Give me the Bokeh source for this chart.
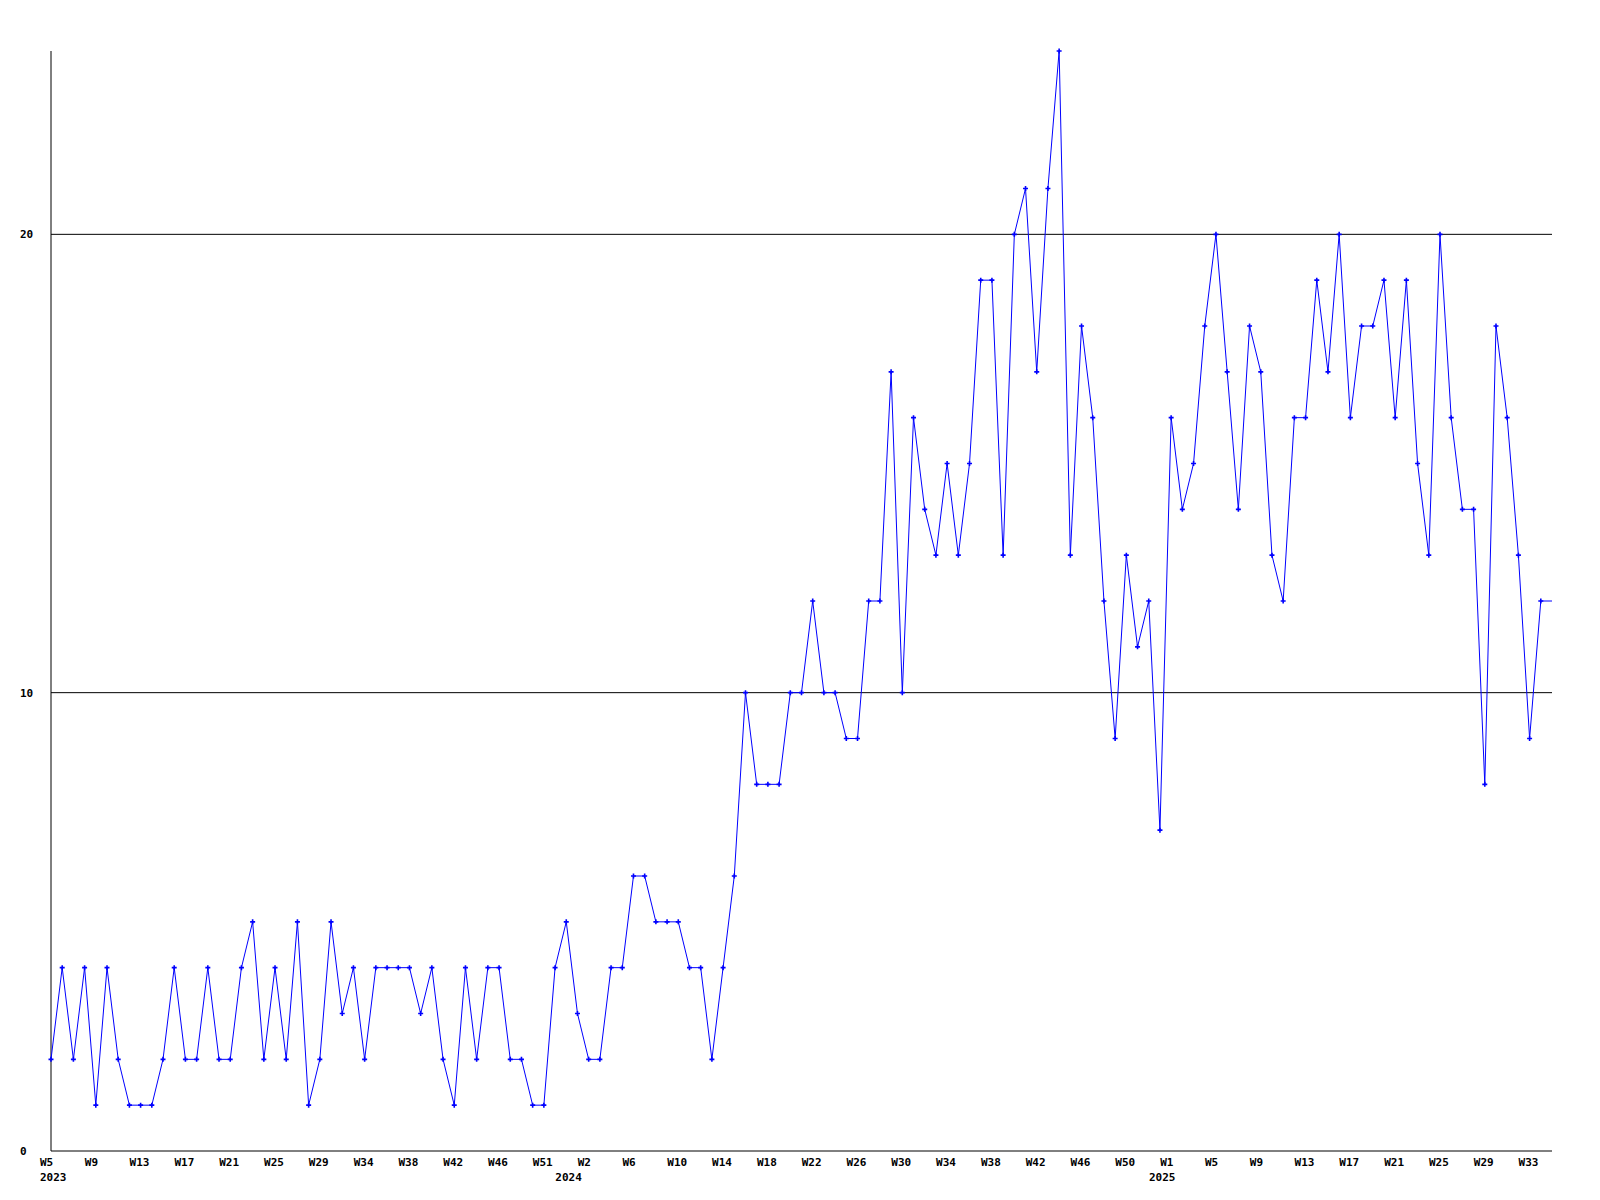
from bokeh.plotting import figure
from bokeh.models import Range1d
from bokeh.core.properties import value
from bokeh.embed import file_html
from bokeh.resources import INLINE

# weekly values, 2023 W5 .. 2025 (last week)
values = [
    2, 4, 2, 4, 1, 4, 2, 1, 1, 1,
    2, 4, 2, 2, 4, 2, 2, 4, 5, 2,
    4, 2, 5, 1, 2, 5, 3, 4, 2, 4,
    4, 4, 4, 3, 4, 2, 1, 4, 2, 4,
    4, 2, 2, 1, 1, 4, 5, 3, 2, 2,
    4, 4, 6, 6, 5, 5, 5, 4, 4, 2,
    4, 6, 10, 8, 8, 8, 10, 10, 12, 10,
    10, 9, 9, 12, 12, 17, 10, 16, 14, 13,
    15, 13, 15, 19, 19, 13, 20, 21, 17, 21,
    24, 13, 18, 16, 12, 9, 13, 11, 12, 7,
    16, 14, 15, 18, 20, 17, 14, 18, 17, 13,
    12, 16, 16, 19, 17, 20, 16, 18, 18, 19,
    16, 19, 15, 13, 20, 16, 14, 14, 8, 18,
    16, 13, 9, 12,
]

week_labels = [
    "W5", "W9", "W13", "W17", "W21", "W25", "W29", "W34", "W38", "W42", "W46", "W51",
    "W2", "W6", "W10", "W14", "W18", "W22", "W26", "W30", "W34", "W38", "W42", "W46", "W50",
    "W1", "W5", "W9", "W13", "W17", "W21", "W25", "W29", "W33",
]
week_label_pos = [i * 4 for i in range(len(week_labels))]

year_labels = ["2023", "2024", "2025"]
year_label_pos = [0, 46, 99]

y_ticks = [0, 10, 20]
y_max = 24

FONT = "DejaVu Sans Mono"

# ---- layout (pixels) ----
W, H = 1592, 1192
left_px, top_px = 50.5, 50.5          # where x=0 / y=y_max land
plot_w_px, plot_h_px = 1501.0, 1100.0

n = len(values)
sx = plot_w_px / n                     # px per week
sy = plot_h_px / y_max                 # px per unit
x0 = -left_px / sx
y1 = y_max + top_px / sy
y0 = y1 - H / sy

p = figure(
    width=W, height=H,
    x_range=Range1d(x0, x0 + W / sx), y_range=Range1d(y0, y1),
    x_axis_type=None, y_axis_type=None,
    output_backend="svg", toolbar_location=None, title=None,
    min_border=0,
)
p.outline_line_color = None
p.background_fill_color = "white"
p.border_fill_color = "white"

# axis line (left) and horizontal rules at ticks (0 = bottom axis)
p.segment(x0=[0], y0=[0], x1=[0], y1=[y_max], line_color="black", line_width=1)
p.segment(x0=[0] * len(y_ticks), y0=y_ticks, x1=[n] * len(y_ticks), y1=y_ticks,
          line_color="black", line_width=1)

line_x = list(range(n)) + [n]
line_y = values + [values[-1]]
p.line(line_x, line_y, line_color="#0000ff", line_width=1)
p.scatter(list(range(n)), values, marker="cross", size=5, line_color="#0000ff", line_width=1.6)

txt = dict(text_font=value(FONT), text_font_size="11px", text_font_style="bold",
           text_color="black", text_baseline="middle", text_align="left")

# y labels
p.text(x=[-31 / sx] * len(y_ticks), y=y_ticks, text=[str(v) for v in y_ticks], **txt)

# week labels
p.text(x=[v - 11 / sx for v in week_label_pos], y=[-11.5 / sy] * len(week_labels),
       text=week_labels, **txt)

# year labels
p.text(x=[v - 11 / sx for v in year_label_pos], y=[-26 / sy] * len(year_labels),
       text=year_labels, **txt)

open("out.html", "w").write(file_html(p, INLINE))
